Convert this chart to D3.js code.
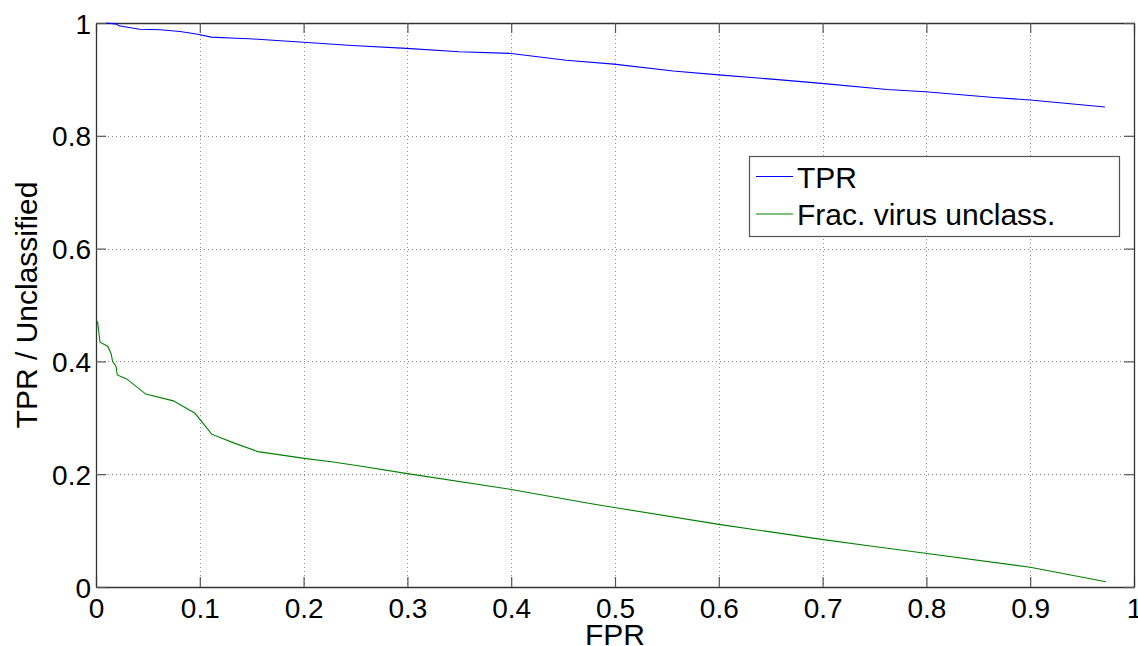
<!DOCTYPE html>
<html>
<head>
<meta charset="utf-8">
<script src="https://cdn.jsdelivr.net/npm/d3@7/dist/d3.min.js"></script>
<style>
  html, body { margin: 0; padding: 0; background: #fff; }
  svg { display: block; font-family: "Liberation Sans", Arial, Helvetica, sans-serif; }
</style>
</head>
<body>
<svg id="chart" width="1138" height="646"></svg>
<script>
// ---- data ----
const tprFpr = [0.010, 0.020, 0.022, 0.042, 0.062, 0.081, 0.098, 0.111, 0.135, 0.148, 0.200, 0.247, 0.299, 0.350, 0.400, 0.453, 0.499, 0.556, 0.600, 0.654, 0.699, 0.762, 0.799, 0.865, 0.900, 0.972];
const tprValues = [1.000, 0.998, 0.995, 0.989, 0.988, 0.985, 0.980, 0.975, 0.973, 0.972, 0.966, 0.960, 0.955, 0.949, 0.946, 0.934, 0.927, 0.915, 0.908, 0.900, 0.893, 0.882, 0.878, 0.868, 0.8635, 0.851];

const uncFpr = [0.0006, 0.0016, 0.0039, 0.0112, 0.0145, 0.016, 0.0193, 0.0205, 0.0295, 0.048, 0.0745, 0.0954, 0.1114, 0.132, 0.156, 0.2007, 0.2267, 0.2543, 0.300, 0.400, 0.476, 0.4994, 0.600, 0.699, 0.746, 0.799, 0.900, 0.973];
const uncValues = [0.472, 0.469, 0.434, 0.427, 0.414, 0.400, 0.391, 0.376, 0.369, 0.342, 0.330, 0.308, 0.271, 0.256, 0.240, 0.228, 0.222, 0.2145, 0.201, 0.173, 0.148, 0.141, 0.111, 0.0845, 0.0727, 0.0597, 0.035, 0.0094];

const xTicks = [0, 0.1, 0.2, 0.3, 0.4, 0.5, 0.6, 0.7, 0.8, 0.9, 1];
const yTicks = [0, 0.2, 0.4, 0.6, 0.8, 1];
const seriesNames = ["TPR", "Frac. virus unclass."];
const seriesColors = ["#0000ff", "#008000"];
const xLabel = "FPR";
const yLabel = "TPR / Unclassified";

// ---- layout ----
const L = 96, R = 1134, T = 23, B = 587;
const svg = d3.select("#chart");
const x = d3.scaleLinear().domain([0, 1]).range([L, R]);
const y = d3.scaleLinear().domain([0, 1]).range([B, T]);
const fmt = d => String(d);

// grid
const grid = svg.append("g").attr("stroke", "#8c8c8c").attr("stroke-width", 1)
  .attr("stroke-dasharray", "1,3").attr("shape-rendering", "crispEdges");
xTicks.slice(1, -1).forEach(t => grid.append("line")
  .attr("x1", Math.round(x(t)) + 0.5).attr("x2", Math.round(x(t)) + 0.5)
  .attr("y1", T).attr("y2", B));
yTicks.slice(1, -1).forEach(t => grid.append("line")
  .attr("y1", Math.round(y(t)) + 0.5).attr("y2", Math.round(y(t)) + 0.5)
  .attr("x1", L).attr("x2", R));

// axes (inward ticks on all sides)
const tickLen = 10;
const axB = svg.append("g").attr("transform", `translate(0,${B})`)
  .call(d3.axisBottom(x).tickValues(xTicks).tickFormat(fmt).tickSizeInner(-tickLen).tickSizeOuter(0).tickPadding(11));
const axT = svg.append("g").attr("transform", `translate(0,${T})`)
  .call(d3.axisTop(x).tickValues(xTicks).tickFormat("").tickSizeInner(-tickLen).tickSizeOuter(0));
const axL = svg.append("g").attr("transform", `translate(${L},0)`)
  .call(d3.axisLeft(y).tickValues(yTicks).tickFormat(fmt).tickSizeInner(-tickLen).tickSizeOuter(0).tickPadding(5));
const axR = svg.append("g").attr("transform", `translate(${R},0)`)
  .call(d3.axisRight(y).tickValues(yTicks).tickFormat("").tickSizeInner(-tickLen).tickSizeOuter(0));

[axB, axT, axL, axR].forEach(a => {
  a.select(".domain").attr("stroke", "#333").attr("stroke-width", 1.3);
  a.selectAll(".tick line").attr("stroke", "#555").attr("stroke-width", 1.2);
  a.selectAll("text").attr("fill", "#000").style("font-size", "28px")
   .style("font-family", '"Liberation Sans", Arial, Helvetica, sans-serif');
});
axB.selectAll("text").attr("dy", "0.71em");
axL.selectAll("text").attr("dy", "0.36em");

// lines
const line = d3.line().x(d => x(d[0])).y(d => y(d[1]));
const tprData = tprFpr.map((f, i) => [f, tprValues[i]]);
const uncData = uncFpr.map((f, i) => [f, uncValues[i]]);
svg.append("path").datum(tprData).attr("d", line).attr("fill", "none")
  .attr("stroke", seriesColors[0]).attr("stroke-width", 1.1);
svg.append("path").datum(uncData).attr("d", line).attr("fill", "none")
  .attr("stroke", seriesColors[1]).attr("stroke-width", 1.1);

// axis labels
svg.append("text").attr("x", (L + R) / 2).attr("y", 645).attr("text-anchor", "middle")
  .style("font-size", "30px").attr("fill", "#000").text(xLabel);
svg.append("text").attr("transform", `translate(37,${(T + B) / 2}) rotate(-90)`)
  .attr("text-anchor", "middle").style("font-size", "30px").attr("fill", "#000").text(yLabel);

// legend
const lg = svg.append("g");
lg.append("rect").attr("x", 749.5).attr("y", 156.5).attr("width", 370).attr("height", 80)
  .attr("fill", "#fff").attr("stroke", "#555").attr("stroke-width", 1.2);
const rowsY = [176.5, 214];
seriesNames.forEach((name, i) => {
  lg.append("line").attr("x1", 756).attr("x2", 793).attr("y1", rowsY[i]).attr("y2", rowsY[i])
    .attr("stroke", seriesColors[i]).attr("stroke-width", 1.1);
  lg.append("text").attr("x", 797).attr("y", rowsY[i] + 11).style("font-size", "30px")
    .attr("fill", "#000").text(name);
});
</script>
</body>
</html>
